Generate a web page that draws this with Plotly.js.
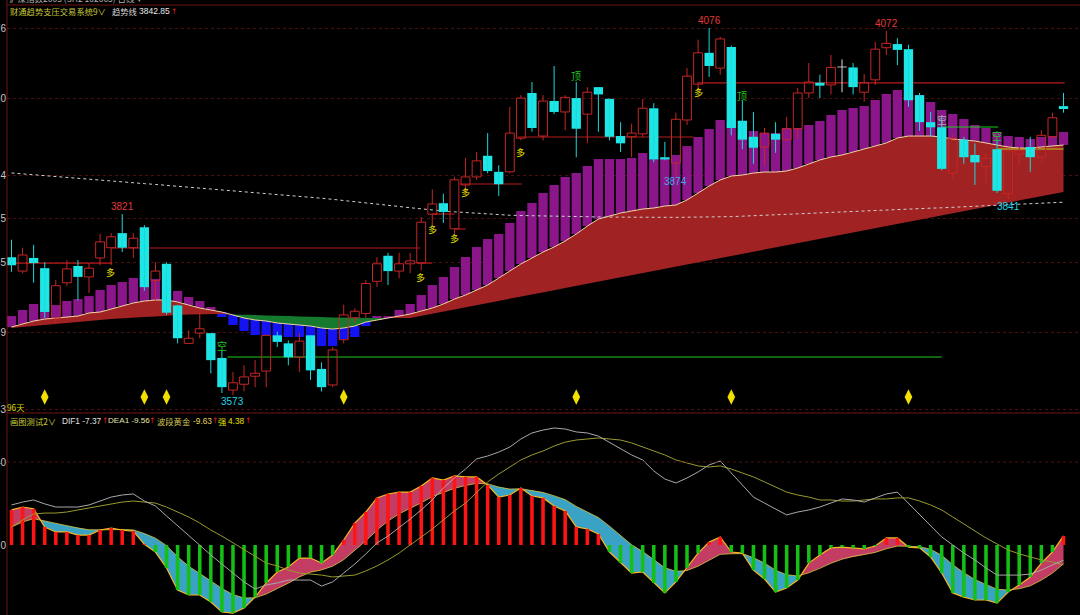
<!DOCTYPE html>
<html>
<head>
<meta charset="utf-8">
<script src="https://cdn.plot.ly/plotly-3.0.1.min.js"></script>
<style>
html,body{margin:0;padding:0;background:#000;overflow:hidden;}
#chart{width:1080px;height:615px;}
</style>
</head>
<body>
<div id="chart"></div>
<script>
// ---------------- data ----------------
const openP = [3762,3743,3761,3747,3679,3727,3750,3735,3761,3775,
3795,3775,3803,3730,3753,3696,3644,3658,3658,3624,
3580,3588,3599,3606,3655,3644,3625,3655,3609,3587,
3649,3679,3685,3729,3764,3743,3753,3754,3821,3836,
3801,3861,3872,3901,3879,3879,3925,3987,3928,3976,
3961,3980,3958,3995,3979,3928,3927,3931,3966,3899,
3891,3950,3999,4042,4021,4050,3949,3927,3913,3931,
3923,3938,3987,4001,3998,4022,4022,3988,4005,4049,
4054,4047,3984,3947,3940,3877,3923,3902,3886,3910,
3849,3903,3913,3899,3927,3969];
const highP = [3786,3775,3779,3755,3731,3758,3758,3754,3794,3795,
3821,3795,3806,3755,3755,3697,3662,3686,3658,3635,
3605,3614,3621,3655,3660,3648,3658,3655,3618,3639,
3697,3692,3731,3762,3768,3768,3768,3817,3855,3849,
3872,3898,3906,3932,3888,3968,3984,4002,3984,4024,
3984,4002,3995,3995,3979,3947,3945,3979,3973,3920,
3960,4021,4060,4076,4064,4052,3977,3961,3939,3947,
3954,3994,4028,4012,4039,4033,4028,4013,4057,4072,
4062,4053,3987,3961,3955,3930,3927,3918,3905,3923,
3910,3913,3927,3936,3960,3987];
const lowP = [3742,3740,3727,3679,3672,3723,3703,3713,3751,3751,
3769,3761,3716,3703,3683,3644,3644,3651,3603,3576,
3573,3578,3584,3584,3639,3614,3605,3594,3578,3584,
3644,3672,3679,3721,3724,3733,3740,3744,3806,3809,
3792,3850,3868,3877,3846,3877,3922,3934,3922,3958,
3936,3899,3918,3934,3922,3906,3899,3927,3892,3895,
3874,3943,3990,4009,4012,3929,3910,3890,3888,3905,
3922,3925,3980,3980,3985,3988,3985,3975,3998,4039,
4025,3968,3935,3927,3881,3870,3890,3861,3864,3850,
3841,3888,3879,3891,3925,3960];
const closeP = [3751,3765,3754,3687,3723,3746,3735,3747,3783,3790,
3775,3788,3721,3743,3686,3651,3651,3664,3621,3584,
3590,3598,3603,3655,3646,3625,3647,3607,3584,3635,
3683,3688,3726,3753,3743,3753,3757,3810,3835,3824,
3868,3872,3894,3880,3862,3932,3980,3939,3976,3961,
3981,3938,3988,3985,3927,3918,3932,3966,3896,3896,
3951,4010,4042,4024,4061,3939,3923,3912,3932,3923,
3938,3987,4002,3997,4022,4022,3995,4001,4047,4055,
4046,3977,3947,3940,3883,3925,3899,3892,3897,3853,
3908,3908,3899,3929,3953,3965];

// fast trend line (top edge of the filled band)
const fastLine = [3666.4,3670.5,3674.6,3677.3,3678.7,3680.1,3681.4,3685.6,3686.9,3691.0,
3695.1,3699.3,3702.0,3703.4,3703.4,3700.6,3696.5,3692.4,3689.7,3686.9,
3682.8,3678.7,3676.0,3674.6,3671.9,3670.5,3669.1,3667.7,3665.0,3663.6,
3665.0,3667.7,3673.2,3676.0,3678.7,3681.4,3684.2,3688.3,3692.4,3697.9,
3704.7,3710.2,3717.1,3723.9,3733.5,3743.1,3752.7,3760.9,3769.1,3776.0,
3784.2,3793.8,3804.7,3814.3,3818.4,3822.5,3825.3,3828.0,3829.4,3832.1,
3833.5,3840.4,3849.9,3859.5,3867.8,3873.2,3874.6,3877.3,3878.7,3878.7,
3880.1,3884.2,3889.7,3895.2,3899.3,3902.0,3906.1,3910.2,3914.3,3918.5,
3925.3,3928.0,3928.0,3928.0,3926.7,3923.9,3922.6,3921.2,3918.5,3915.7,
3913.0,3911.6,3911.6,3913.0,3914.3,3915.7];
// slow trend line (other edge of the band)
const trendLine = [3665.0,3666.4,3667.7,3669.1,3670.5,3671.9,3673.2,3674.6,3676.0,3677.3,
3678.7,3679.4,3680.1,3680.8,3681.4,3682.8,3683.5,3684.2,3684.2,3684.2,
3683.5,3682.8,3682.8,3682.1,3681.4,3681.4,3680.8,3680.1,3680.1,3679.4,
3678.7,3678.7,3678.7,3678.7,3678.7,3678.7,3678.7,3681.7,3684.6,3687.5,
3690.5,3693.4,3696.4,3699.3,3702.1,3705.1,3708.0,3710.9,3713.9,3716.8,
3719.8,3722.7,3725.6,3728.6,3731.5,3734.3,3737.3,3740.2,3743.2,3746.1,
3748.9,3751.9,3754.9,3757.7,3760.8,3763.6,3766.6,3769.5,3772.4,3775.4,
3778.3,3781.2,3784.2,3787.1,3790.1,3793.0,3795.8,3798.8,3801.7,3804.6,
3807.6,3810.5,3813.5,3816.4,3819.3,3822.3,3825.2,3828.0,3831.0,3833.9,
3836.9,3839.8,3842.7,3845.7,3848.6,3851.5];
// end of the purple / blue columns
const trendBar = [3681.4,3689.7,3697.9,3700.6,3696.5,3702.0,3704.7,3708.8,3717.1,3723.9,
3728.0,3733.5,3733.5,3732.1,3725.3,3715.7,3707.5,3702.0,3693.8,3680.1,
3669.1,3660.9,3655.4,3655.4,3652.7,3652.7,3652.7,3641.7,3640.3,3640.3,
3649.9,3652.7,3667.7,3681.4,3681.4,3689.7,3697.9,3710.2,3723.9,3734.9,
3748.6,3762.3,3776.0,3786.9,3793.8,3808.9,3825.3,3836.3,3850.0,3860.9,
3871.9,3877.4,3887.0,3896.5,3896.5,3896.5,3897.9,3904.8,3897.9,3897.9,
3902.0,3914.3,3926.7,3937.6,3950.0,3947.2,3933.5,3934.9,3932.2,3932.2,
3939.0,3939.0,3943.1,3948.6,3956.8,3963.7,3966.4,3969.1,3977.4,3985.6,
3991.1,3988.3,3984.2,3974.6,3963.7,3958.2,3951.3,3943.1,3939.0,3933.5,
3928.0,3926.7,3923.9,3926.7,3928.0,3933.5];
// long dotted average
const longLine = [3877.4,3876.1,3875.2,3873.9,3872.7,3871.5,3870.2,3869.0,3867.8,3866.5,
3865.3,3864.1,3862.8,3861.7,3860.5,3859.3,3858.0,3856.8,3855.6,3854.3,
3853.2,3852.0,3850.8,3849.5,3848.3,3847.1,3845.8,3844.3,3842.8,3841.3,
3839.8,3838.3,3836.7,3835.0,3833.2,3831.5,3829.8,3828.0,3826.4,3825.3,
3824.2,3823.2,3822.1,3821.0,3819.9,3819.5,3819.1,3818.7,3818.3,3817.9,
3817.6,3817.5,3817.3,3817.2,3817.0,3816.8,3816.6,3816.5,3816.4,3816.5,
3816.6,3816.8,3816.8,3816.9,3817.0,3817.6,3818.2,3818.9,3819.4,3819.9,
3820.5,3821.0,3821.7,3822.4,3823.1,3823.8,3824.6,3825.3,3826.0,3826.7,
3827.2,3827.9,3828.5,3829.2,3829.7,3830.4,3831.1,3831.8,3832.5,3833.1,
3833.8,3834.6,3835.3,3836.0,3836.7,3837.4];

// lower panel
const difV = [19.3,20.7,21.7,19.8,18.3,18.3,18.3,19.3,21.2,23.1,
24.1,24.6,21.2,18.8,14.0,9.2,4.8,0,-4.8,-9.2,
-13.5,-17.8,-21.2,-19.3,-18.3,-16.9,-16.9,-16.9,-19.8,-17.8,
-13.5,-9.2,-4.3,1.0,4.3,8.2,12.5,16.9,21.7,27.5,
32.3,36.6,41.5,42.9,44.8,47.2,51.1,54.0,55.4,56.4,
55.9,54.5,54.0,52.5,49.6,46.3,43.4,41.0,35.7,31.8,
29.9,32.3,35.2,38.6,40.5,34.7,28.9,23.1,20.2,17.4,
14.5,15.9,16.9,18.3,20.2,22.2,21.7,20.7,22.7,24.6,
25.5,20.2,14.5,9.2,3.9,0,-3.9,-7.2,-11.1,-14.5,
-14.5,-14.5,-14.0,-12.1,-9.6,-7.37];
const deaV = [8.7,12.1,14.9,15.4,15.4,15.9,16.9,17.8,18.8,19.8,
20.7,21.2,20.7,20.2,18.3,15.9,13.5,10.6,7.2,4.3,
1.0,-1.9,-5.3,-8.7,-10.1,-12.1,-13.5,-14.0,-14.5,-15.4,
-14.9,-14.5,-12.5,-10.1,-7.2,-3.9,0,3.9,7.7,12.1,
16.4,20.2,25.5,30.4,34.2,37.6,41.0,43.4,45.3,47.7,
49.6,50.6,51.1,51.6,51.1,50.6,49.2,47.2,45.3,43.4,
41.0,39.5,38.1,37.6,38.1,36.6,34.7,32.8,30.4,28.0,
25.5,24.1,23.1,21.7,21.7,21.2,21.2,21.7,22.2,22.2,
22.7,22.7,21.2,19.3,16.9,13.5,10.1,6.7,3.4,0.5,
-2.4,-4.3,-5.8,-7.2,-8.2,-9.56];
const histV = [16.9,18.3,17.4,8.7,6.3,6.3,4.8,4.8,7.2,8.2,
7.2,6.7,0.3,-3.4,-11.1,-21.7,-24.1,-24.1,-27.5,-32.3,
-32.8,-30.4,-25.1,-18.3,-13.0,-10.6,-6.3,-6.3,-8.7,-4.8,
2.4,10.6,15.9,22.7,24.6,25.5,25.5,28.4,32.3,31.3,
33.3,32.8,32.8,28.9,23.1,24.1,27.5,23.6,22.7,18.8,
16.4,8.7,7.7,5.3,-3.4,-8.7,-13.5,-13.0,-18.3,-23.1,
-17.8,-11.1,-3.9,1.4,3.9,-3.4,-3.9,-12.1,-16.4,-22.7,
-20.7,-16.9,-8.7,-4.8,-1.4,-1.0,-1.4,-1.9,-0.5,3.4,
3.4,-1.0,-1.4,-5.8,-13.5,-23.1,-25.1,-26.5,-26.5,-28.0,
-22.7,-19.3,-15.4,-8.7,-3.4,4.38];
const bandStart = 8.7;

// axis ticks
const priceTicks = [4076, 3980, 3874, 3815, 3755, 3659, 3553];
const macdTicks = [0, 40];

// support / resistance levels (bar index from, to, price)
const redFrom  = [-0.4, 9.1, 40.5, 45.7, 61.9, 36.6, 38.0, 40.0];
const redTo    = [9.1, 36.9, 46.1, 61.6, 95.1, 38.0, 40.0, 41.0];
const redPrice = [3754, 3774.6, 3862.3, 3926.7, 4000.7, 3754, 3821.2, 3800.6];
const greenFrom  = [19.5, 84.0];
const greenTo    = [84.0, 89.1];
const greenPrice = [3625.3, 3940.4];
const limeFrom = [89.1], limeTo = [95.0], limePrice = [3910.2];

// signals
const buyIdx = [8.9, 36.9, 38, 40, 41, 46, 62];
const buyPrice = [3740.4, 3734.9, 3799.3, 3787, 3850, 3904.8, 3988.3];
const topIdx = [51, 66];
const topPrice = [4011.6, 3984.2];
const shortIdx = [19, 84, 89];
const shortPrice = [3641.7, 3951.3, 3929.4];
const sellIdx = [3, 12, 14, 30, 51, 65, 81];
const sellLevel = 3570.5;
const peakIdx = [10, 63, 79];
const troughIdx = [20, 60, 90];

// ---------------- drawing ----------------
const idx = openP.map((_, i) => i);
const CJK = '"Noto Sans CJK SC", "Noto Sans", sans-serif';
const NUM = '"Liberation Sans", Arial, sans-serif';
const ARW = '"DejaVu Sans", sans-serif';

// signal line of the histogram
const bandLine = [];
histV.forEach((h, i) => bandLine.push(i === 0 ? bandStart : bandLine[i - 1] + 0.25 * (h - bandLine[i - 1])));

function splitBands(xs, a, b) {
  const pos = [], neg = [];
  let top = [], bot = [], sign = 0;
  const flush = () => {
    if (top.length > 1) {
      const poly = {
        x: top.map(p => p[0]).concat(bot.map(p => p[0]).reverse()),
        y: top.map(p => p[1]).concat(bot.map(p => p[1]).reverse())
      };
      (sign > 0 ? pos : neg).push(poly);
    }
  };
  for (let i = 0; i < xs.length; i++) {
    const d = a[i] - b[i];
    const s = d >= 0 ? 1 : -1;
    if (i === 0) { sign = s; top = [[xs[0], a[0]]]; bot = [[xs[0], b[0]]]; continue; }
    if (s !== sign) {
      const dp = a[i - 1] - b[i - 1];
      const t = dp / (dp - d);
      const xc = xs[i - 1] + t * (xs[i] - xs[i - 1]);
      const yc = a[i - 1] + t * (a[i] - a[i - 1]);
      top.push([xc, yc]); bot.push([xc, yc]);
      flush();
      sign = s; top = [[xc, yc]]; bot = [[xc, yc]];
    }
    top.push([xs[i], a[i]]); bot.push([xs[i], b[i]]);
  }
  flush();
  return { pos, neg };
}
function polyTrace(polys, color, ya) {
  const x = [], y = [];
  polys.forEach((p, k) => { if (k) { x.push(null); y.push(null); } x.push(...p.x, p.x[0]); y.push(...p.y, p.y[0]); });
  return { type: 'scatter', mode: 'lines', x, y, fill: 'toself', fillcolor: color,
           line: { width: 0, color }, hoverinfo: 'skip', xaxis: 'x', yaxis: ya };
}
function segTrace(from, to, level, color, width, ya) {
  const x = [], y = [];
  from.forEach((f, k) => { x.push(f, to[k], null); y.push(level[k], level[k], null); });
  return { type: 'scatter', mode: 'lines', x, y, line: { color, width }, hoverinfo: 'skip', xaxis: 'x', yaxis: ya };
}

const traces = [];

// ---- main panel, lower layer ----
const mb = splitBands(idx, fastLine, trendLine);
traces.push(polyTrace(mb.pos, '#a02222', 'y'));
traces.push(polyTrace(mb.neg, '#167a2e', 'y'));

const upI = idx.filter(i => trendBar[i] >= fastLine[i]);
const dnI = idx.filter(i => trendBar[i] < fastLine[i]);
traces.push({ type: 'bar', x: upI, base: upI.map(i => fastLine[i]), y: upI.map(i => trendBar[i] - fastLine[i]),
  width: 0.84, marker: { color: '#8a168a', line: { width: 0 } }, xaxis: 'x', yaxis: 'y', hoverinfo: 'skip' });
traces.push({ type: 'bar', x: dnI, base: dnI.map(i => trendBar[i]), y: dnI.map(i => fastLine[i] - trendBar[i]),
  width: 0.84, marker: { color: '#1414f2', line: { width: 0 } }, xaxis: 'x', yaxis: 'y', hoverinfo: 'skip' });

traces.push({ type: 'scatter', mode: 'lines', x: idx, y: fastLine, line: { color: '#f2d6a4', width: 1 }, xaxis: 'x', yaxis: 'y', hoverinfo: 'skip' });
traces.push({ type: 'scatter', mode: 'lines', x: idx, y: longLine, line: { color: '#cfcfcf', width: 1, dash: 'dot' }, xaxis: 'x', yaxis: 'y', hoverinfo: 'skip' });

traces.push(segTrace(redFrom, redTo, redPrice, '#b81a1a', 1.2, 'y'));
traces.push(segTrace(greenFrom, greenTo, greenPrice, '#1ec81e', 1.1, 'y'));
traces.push(segTrace(limeFrom, limeTo, limePrice, '#b8d020', 1.1, 'y'));

// ---- main panel, candles (overlay layer) ----
const redI = idx.filter(i => closeP[i] > openP[i]);
const cyanI = idx.filter(i => closeP[i] < openP[i]);
const dojiI = idx.filter(i => closeP[i] === openP[i]);
function wicks(list, split) {
  const x = [], y = [];
  list.forEach(i => {
    if (split) {
      const t = Math.max(openP[i], closeP[i]), b = Math.min(openP[i], closeP[i]);
      if (highP[i] > t) { x.push(i, i, null); y.push(t, highP[i], null); }
      if (lowP[i] < b) { x.push(i, i, null); y.push(lowP[i], b, null); }
    } else { x.push(i, i, null); y.push(lowP[i], highP[i], null); }
  });
  return { x, y };
}
const wr = wicks(redI, true), wc = wicks(cyanI, false), wd = wicks(dojiI, false);
traces.push({ type: 'scatter', mode: 'lines', x: wc.x, y: wc.y, line: { color: '#19d8d8', width: 1 }, xaxis: 'x', yaxis: 'y3', hoverinfo: 'skip' });
traces.push({ type: 'scatter', mode: 'lines', x: wr.x, y: wr.y, line: { color: '#c42626', width: 1 }, xaxis: 'x', yaxis: 'y3', hoverinfo: 'skip' });
traces.push({ type: 'scatter', mode: 'lines', x: wd.x, y: wd.y, line: { color: '#d8d8d8', width: 1 }, xaxis: 'x', yaxis: 'y3', hoverinfo: 'skip' });
traces.push({ type: 'bar', x: cyanI, base: cyanI.map(i => closeP[i]), y: cyanI.map(i => Math.max(openP[i] - closeP[i], 1.6)),
  width: 0.84, marker: { color: '#1ee6e6', line: { width: 0 } }, xaxis: 'x', yaxis: 'y3', hoverinfo: 'skip' });
traces.push({ type: 'bar', x: redI, base: redI.map(i => openP[i]), y: redI.map(i => closeP[i] - openP[i]),
  width: 0.8, marker: { color: 'rgba(0,0,0,0)', line: { width: 1, color: '#c42626' } }, xaxis: 'x', yaxis: 'y3', hoverinfo: 'skip' });
traces.push({ type: 'bar', x: dojiI, base: dojiI.map(i => openP[i]), y: dojiI.map(() => 1.2),
  width: 0.84, marker: { color: '#d8d8d8', line: { width: 0 } }, xaxis: 'x', yaxis: 'y3', hoverinfo: 'skip' });
traces.push({ type: 'scatter', mode: 'markers', x: sellIdx, y: sellIdx.map(() => sellLevel),
  marker: { symbol: 'diamond-tall', size: 11, color: '#f2e000', line: { width: 0 } }, xaxis: 'x', yaxis: 'y3', hoverinfo: 'skip' });

// ---- lower panel ----
const lb = splitBands(idx, histV, bandLine);
traces.push(polyTrace(lb.pos, '#c23c64', 'y2'));
traces.push(polyTrace(lb.neg, '#3aa2c4', 'y2'));
traces.push({ type: 'scatter', mode: 'lines', x: idx, y: bandLine, line: { color: '#d8c83c', width: 0.8 }, xaxis: 'x', yaxis: 'y2', hoverinfo: 'skip' });
traces.push({ type: 'scatter', mode: 'lines', x: idx, y: histV, line: { color: '#f4b820', width: 1.2 }, xaxis: 'x', yaxis: 'y2', hoverinfo: 'skip' });

const posH = idx.filter(i => histV[i] >= 0), negH = idx.filter(i => histV[i] < 0);
traces.push({ type: 'bar', x: posH, y: posH.map(i => histV[i]), width: 0.32, marker: { color: '#ff1414', line: { width: 0 } }, xaxis: 'x', yaxis: 'y4', hoverinfo: 'skip' });
traces.push({ type: 'bar', x: negH, y: negH.map(i => histV[i]), width: 0.32, marker: { color: '#14c014', line: { width: 0 } }, xaxis: 'x', yaxis: 'y4', hoverinfo: 'skip' });
traces.push({ type: 'scatter', mode: 'lines', x: idx, y: deaV, line: { color: '#9a9a2e', width: 1 }, xaxis: 'x', yaxis: 'y4', hoverinfo: 'skip' });
traces.push({ type: 'scatter', mode: 'lines', x: idx, y: difV, line: { color: '#a8a8a8', width: 1 }, xaxis: 'x', yaxis: 'y4', hoverinfo: 'skip' });

// ---------------- layout ----------------
const px = v => v / 1080, py = v => 1 - v / 615;
const mainRange = [3548.6, 4107.5];
const macdRange = [-33.74, 62.66];
const ann = [];
const A = (o) => ann.push(Object.assign({ showarrow: false, borderpad: 0 }, o));
const T = (x, y, text, color, size, family) => A({ xref: 'paper', yref: 'paper', x: px(x), y: py(y), xanchor: 'left', yanchor: 'middle',
  text, font: { family: family || CJK, size: size || 8.3, color } });

// headers
T(8, -2, '沪深指数2005 (SH2 102005) 日线 ▾', '#b0b0b0', 8.5);
T(9, 11.5, '财通趋势支压交易系统9∨', '#c8c83a', 8.3);
T(111, 11.5, '趋势线', '#d4d4d4', 8.3);
T(138, 11.5, '3842.85', '#e8e8e8', 8.5, NUM);
T(170, 11.5, '↑', '#e02020', 7.5, ARW);
T(6, 407, '96天', '#d8d800', 8.3);
T(9, 420.5, '画图测试2∨', '#c8c83a', 8.3);
T(61, 420.5, 'DIF1 -7.37', '#e0e0e0', 8.3, NUM);
T(100.5, 420.5, '↑', '#e02020', 7.5, ARW);
T(106.5, 420.5, 'DEA1 -9.56', '#e4e4a0', 8.1, NUM);
T(148, 420.5, '↑', '#e02020', 7.5, ARW);
T(156, 420.5, '波段黄金', '#d0c454', 8.3);
T(191.5, 420.5, '-9.63', '#e4d860', 8.3, NUM);
T(210.5, 420.5, '↑', '#e02020', 7.5, ARW);
T(216.5, 420.5, '强', '#e8e000', 8.3);
T(227, 420.5, '4.38', '#e8e000', 8.3, NUM);
T(244, 420.5, '↑', '#e02020', 7.5, ARW);

// peaks / troughs
peakIdx.forEach(i => A({ xref: 'x', yref: 'y3', x: i, y: highP[i], yanchor: 'bottom', yshift: 1,
  text: String(highP[i]), font: { family: NUM, size: 10, color: '#e03a3a' } }));
const troughCol = ['#22d4e4', '#4aa4e8', '#22d4e4'];
troughIdx.forEach((i, k) => A({ xref: 'x', yref: 'y3', x: i, y: lowP[i], yanchor: 'top', yshift: 0,
  text: String(lowP[i]), font: { family: NUM, size: 10, color: troughCol[k] } }));

// signals
buyIdx.forEach((x, k) => A({ xref: 'x', yref: 'y3', x, y: buyPrice[k], text: '多', font: { family: CJK, size: 9, color: '#e8e000' } }));
topIdx.forEach((x, k) => A({ xref: 'x', yref: 'y3', x, y: topPrice[k], text: '顶', font: { family: CJK, size: 10, color: '#22c422' } }));
const shortCol = ['#22c422', '#a8a8a8', '#22c422'];
shortIdx.forEach((x, k) => A({ xref: 'x', yref: 'y3', x, y: shortPrice[k], text: '空', font: { family: CJK, size: 10, color: shortCol[k] } }));

const borderCol = '#6e1414';
const shapes = [
  { type: 'line', xref: 'paper', yref: 'paper', x0: px(7), x1: 1, y0: py(5), y1: py(5), line: { color: borderCol, width: 1 } },
  { type: 'line', xref: 'paper', yref: 'paper', x0: px(7), x1: 1, y0: py(413), y1: py(413), line: { color: borderCol, width: 1 } },
  { type: 'line', xref: 'paper', yref: 'paper', x0: px(7), x1: px(7), y0: 0, y1: 1, line: { color: borderCol, width: 1 } },
  { type: 'line', xref: 'paper', yref: 'y2', x0: px(7), x1: 1, y0: 40, y1: 40, line: { color: '#4a0e0e', width: 1, dash: 'dot' } }
];

const layout = {
  width: 1080, height: 615,
  paper_bgcolor: '#000', plot_bgcolor: '#000',
  margin: { l: 0, r: 0, t: 0, b: 0 },
  showlegend: false, barmode: 'overlay', hovermode: false,
  xaxis: { domain: [px(7), 1], range: [-0.406, 96.49], showgrid: false, zeroline: false, showticklabels: false, ticks: '', showline: false, anchor: 'y' },
  yaxis: { domain: [py(413), py(5)], range: mainRange, anchor: 'x', tickvals: priceTicks, ticktext: priceTicks.map(String),
    tickfont: { family: NUM, size: 10, color: '#c4c4c4' }, ticks: '', showgrid: true, gridcolor: '#4a0e0e', griddash: 'dot', gridwidth: 1,
    zeroline: false, showline: false },
  yaxis3: { overlaying: 'y', anchor: 'x', range: mainRange, visible: false },
  yaxis2: { domain: [0, py(415)], range: macdRange, anchor: 'x', tickvals: macdTicks, ticktext: macdTicks.map(String),
    tickfont: { family: NUM, size: 10, color: '#c4c4c4' }, ticks: '', showgrid: false, zeroline: false, showline: false },
  yaxis4: { overlaying: 'y2', anchor: 'x', range: macdRange, visible: false },
  shapes, annotations: ann
};

Plotly.newPlot('chart', traces, layout, { staticPlot: true, displayModeBar: false });
</script>
</body>
</html>
